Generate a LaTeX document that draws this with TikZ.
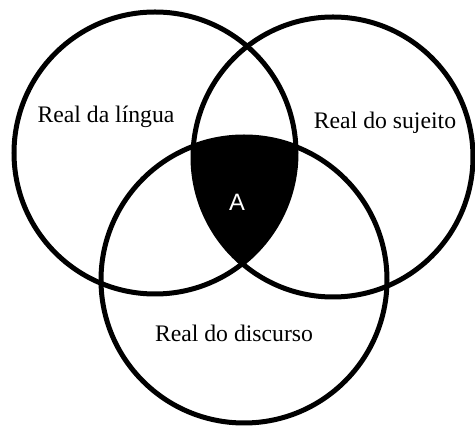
\documentclass[tikz,border=0pt]{standalone}
\usepackage{fontspec}
\setmainfont{Liberation Serif}
\newfontfamily\labelsans{Liberation Sans}
\begin{document}
\begin{tikzpicture}[x=1pt,y=1pt,
  ring/.style={draw=black,line width=5pt},
  lbl/.style={anchor=base,inner sep=0pt,font=\fontsize{23.7}{28}\selectfont},
  alabel/.style={anchor=base,inner sep=0pt,text=white,font=\labelsans\fontsize{23.7}{28}\selectfont}]
\useasboundingbox (0,0) rectangle (475,428);
\fill[white] (0,0) rectangle (475,428);
\coordinate (cl) at (155,275);
\coordinate (cr) at (333,271);
\coordinate (cb) at (244,148);
\begin{scope}
  \clip (cl) circle (141);
  \clip (cr) circle (140);
  \fill[black] (cb) circle (143);
\end{scope}
\draw[ring] (cl) circle (141);
\draw[ring] (cr) circle (140);
\draw[ring] (cb) circle (143);
\node[lbl] (tl) at (106,305) {Real da língua};
\node[lbl] (tr) at (385,299) {Real do sujeito};
\node[lbl] (tb) at (234,86) {Real do discurso};
\node[alabel] (ta) at (237,217) {A};
\end{tikzpicture}
\end{document}
